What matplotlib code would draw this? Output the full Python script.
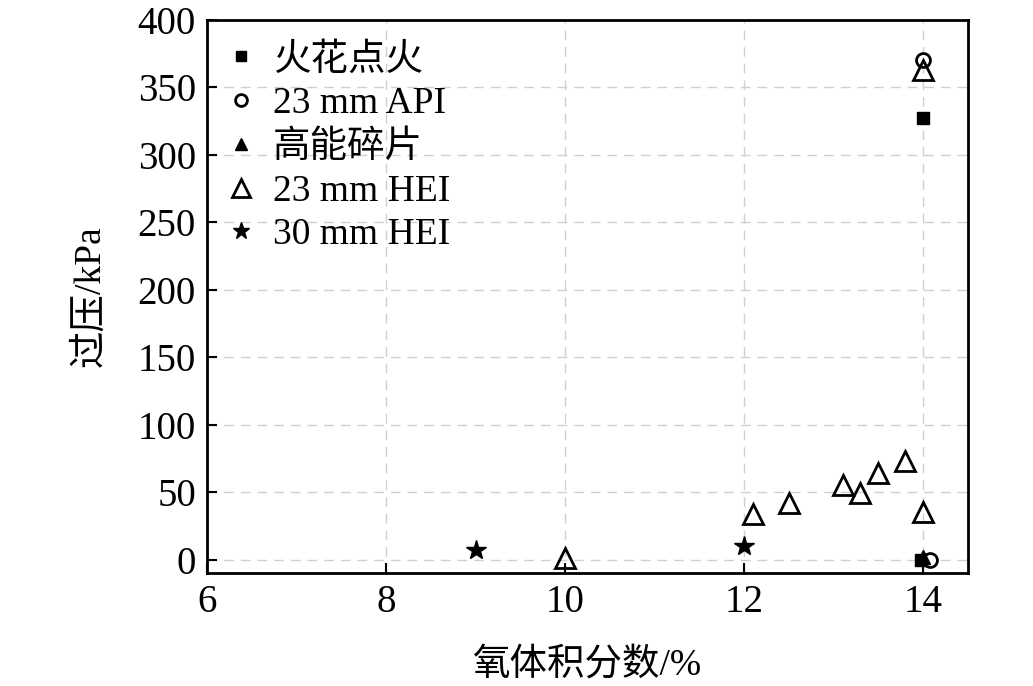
import numpy as np
import matplotlib
matplotlib.use('Agg')
import matplotlib.pyplot as plt

plt.rcParams['font.family'] = ['Liberation Serif', 'Noto Sans CJK SC']
plt.rcParams['mathtext.fontset'] = 'stix'

# data
spark_x = [14.0, 13.98]
spark_y = [327, 0]

api_x = [14.0, 14.08]
api_y = [370, 0]

frag_x = [14.0]
frag_y = [2]

hei23_x = [14.0, 10.0, 12.1, 12.5, 13.1, 13.3, 13.5, 13.8, 14.0]
hei23_y = [363, 1, 34, 42, 55, 49, 64, 73, 35]

hei30_x = [9.0, 12.0]
hei30_y = [7, 10]

labels = ['火花点火', '23 mm API', '高能碎片', '23 mm HEI', '30 mm HEI']

fig = plt.figure(figsize=(10.33, 6.86), dpi=100)
ax = fig.add_axes([0.2004, 0.1647, 0.7366, 0.8063])

ax.plot(spark_x, spark_y, 's', color='black', ms=8, label=labels[0])
ax.plot(api_x, api_y, 'o', mfc='white', mec='black', mew=2, ms=10, label=labels[1])
ax.plot(frag_x, frag_y, '^', color='black', ms=10, label=labels[2])
ax.plot(hei23_x, hei23_y, '^', mfc='none', mec='black', mew=2, ms=15, label=labels[3])
ax.plot(hei30_x, hei30_y, '*', color='black', ms=15, label=labels[4])

ax.set_xlim(6, 14.5)
ax.set_ylim(-10, 400)
ax.set_xticks([6, 8, 10, 12, 14])
ax.set_yticks(np.arange(0, 401, 50))
ax.tick_params(direction='in', labelsize=28, width=1.5, length=7, pad=8)
for s in ax.spines.values():
    s.set_linewidth(2)
ax.grid(True, linestyle=(0, (7, 5)), color='#d0d0d0', linewidth=1)
ax.set_axisbelow(True)

ax.set_xlabel('氧体积分数/%', fontsize=27, labelpad=19)
ax.set_ylabel('过压/kPa', fontsize=27, labelpad=22)

ax.legend(loc='upper left', frameon=False, fontsize=27, markerscale=0.85,
          handlelength=0.6, handletextpad=0.55, labelspacing=0.245,
          borderaxespad=0.2, bbox_to_anchor=(0.0, 0.999))

fig.savefig('out.png', dpi=100)
